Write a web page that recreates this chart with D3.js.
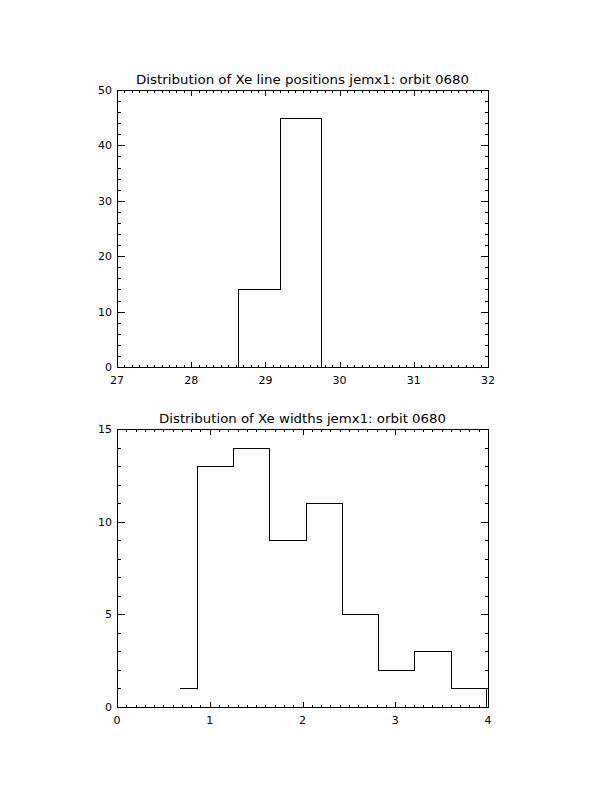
<!DOCTYPE html>
<html><head><meta charset="utf-8">
<script src="https://cdn.jsdelivr.net/npm/d3@7"></script>
<style>body{margin:0;background:#fff}svg{display:block}text{font-family:"DejaVu Sans",sans-serif;fill:#000}</style>
</head><body>
<script>
// ---- data ----
const title1 = "Distribution of Xe line positions jemx1: orbit 0680";
const title2 = "Distribution of Xe widths jemx1: orbit 0680";
// top histogram: bin edges and counts
const posEdges = [28.635, 29.2, 29.755];
const posCounts = [14, 45];
const posXTicks = [27, 28, 29, 30, 31, 32];
const posYTicks = [0, 10, 20, 30, 40, 50];
// bottom histogram: step edges and counts
const widEdges = [0.672, 0.863, 1.254, 1.642, 2.038, 2.426, 2.814, 3.206, 3.598, 4.0];
const widCounts = [1, 13, 14, 9, 11, 5, 2, 3, 1];
const widDropX = 3.98;
const widXTicks = [0, 1, 2, 3, 4];
const widYTicks = [0, 5, 10, 15];

const W = 612, H = 792;
const svg = d3.select("body").append("svg").attr("width", W).attr("height", H);

function panel(o) {
  const x = d3.scaleLinear().domain(o.xd).range([o.left, o.right]);
  const y = d3.scaleLinear().domain(o.yd).range([o.bottom, o.top]);
  const g = svg.append("g");
  const pw = o.right - o.left, ph = o.bottom - o.top;
  const xMaj = ph * 0.02, yMaj = pw * 0.02;
  // frame
  g.append("rect").attr("x", o.left + 0.5).attr("y", o.top + 0.5)
    .attr("width", pw).attr("height", ph)
    .attr("fill", "none").attr("stroke", "#000").attr("stroke-width", 1)
    .attr("shape-rendering", "crispEdges");
  const tg = g.append("g").attr("stroke", "#000").attr("stroke-width", 1).attr("shape-rendering", "crispEdges");
  // x ticks
  const xStep = o.xTicks[1] - o.xTicks[0];
  const xMinor = d3.range(o.xd[0], o.xd[1] + 1e-9, xStep / o.xMinorN);
  xMinor.forEach((v, i) => {
    const major = i % o.xMinorN === 0;
    const len = major ? xMaj : xMaj / 2;
    const px = Math.round(x(v)) + 0.5;
    tg.append("line").attr("x1", px).attr("x2", px).attr("y1", o.bottom + 0.5).attr("y2", o.bottom + 0.5 - len);
    tg.append("line").attr("x1", px).attr("x2", px).attr("y1", o.top + 0.5).attr("y2", o.top + 0.5 + len);
  });
  const yStep = o.yTicks[1] - o.yTicks[0];
  const yMinor = d3.range(o.yd[0], o.yd[1] + 1e-9, yStep / o.yMinorN);
  yMinor.forEach((v, i) => {
    const major = i % o.yMinorN === 0;
    const len = major ? yMaj : yMaj / 2;
    const py = Math.round(y(v)) + 0.5;
    tg.append("line").attr("y1", py).attr("y2", py).attr("x1", o.left + 0.5).attr("x2", o.left + 0.5 + len);
    tg.append("line").attr("y1", py).attr("y2", py).attr("x1", o.right + 0.5).attr("x2", o.right + 0.5 - len);
  });
  // labels
  g.selectAll(".xl").data(o.xTicks).enter().append("text")
    .attr("x", d => x(d)).attr("y", o.bottom + 17).attr("text-anchor", "middle")
    .attr("font-size", 11).text(d => d);
  g.selectAll(".yl").data(o.yTicks).enter().append("text")
    .attr("x", o.left - 5).attr("y", d => y(d) + 4).attr("text-anchor", "end")
    .attr("font-size", 11).text(d => d);
  g.append("text").attr("x", (o.left + o.right) / 2).attr("y", o.top - 6)
    .attr("text-anchor", "middle").attr("font-size", 13)
    .attr("textLength", o.titleLen).attr("lengthAdjust", "spacingAndGlyphs")
    .text(o.title);
  return {x, y, g};
}

const p1 = panel({left: 117, right: 488, top: 90, bottom: 367, xd: [27, 32], yd: [0, 50],
  xTicks: posXTicks, yTicks: posYTicks, xMinorN: 10, yMinorN: 5, title: title1, titleLen: 333});
const p2 = panel({left: 117, right: 488, top: 429, bottom: 707, xd: [0, 4], yd: [0, 15],
  xTicks: widXTicks, yTicks: widYTicks, xMinorN: 10, yMinorN: 5, title: title2, titleLen: 287});

const line = (p) => d3.line().x(d => Math.round(p.x(d[0])) + 0.5).y(d => Math.round(p.y(d[1])) + 0.5);

// top histogram
const pts1 = [[posEdges[0], 0]];
posCounts.forEach((c, i) => { pts1.push([posEdges[i], c]); pts1.push([posEdges[i + 1], c]); });
pts1.push([posEdges[posEdges.length - 1], 0]);
p1.g.append("path").attr("d", line(p1)(pts1)).attr("fill", "none").attr("stroke", "#000")
  .attr("stroke-width", 1).attr("shape-rendering", "crispEdges");

// bottom histogram
const pts2 = [];
widCounts.forEach((c, i) => { pts2.push([widEdges[i], c]); pts2.push([widEdges[i + 1], c]); });
p2.g.append("path").attr("d", line(p2)(pts2)).attr("fill", "none").attr("stroke", "#000")
  .attr("stroke-width", 1).attr("shape-rendering", "crispEdges");
p2.g.append("path").attr("d", line(p2)([[widDropX, widCounts[widCounts.length - 1]], [widDropX, 0]]))
  .attr("fill", "none").attr("stroke", "#000").attr("stroke-width", 1).attr("shape-rendering", "crispEdges");
</script>
</body></html>
